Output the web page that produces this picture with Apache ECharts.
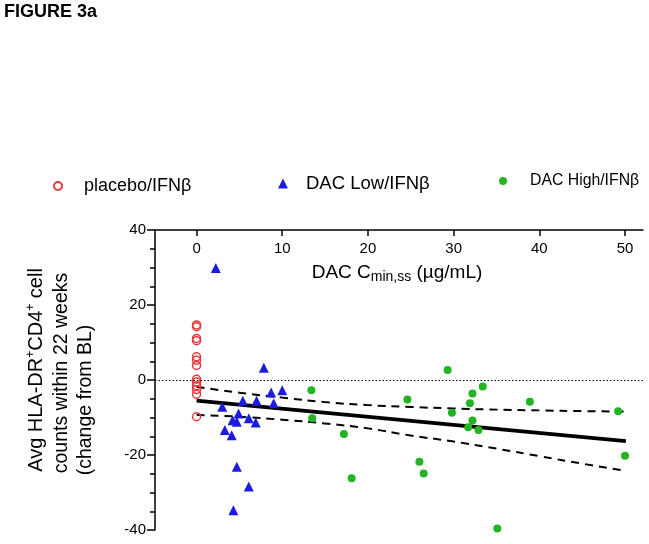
<!DOCTYPE html>
<html>
<head>
<meta charset="utf-8">
<script src="https://cdn.jsdelivr.net/npm/echarts@6/dist/echarts.min.js"></script>
<style>
  html, body { margin: 0; padding: 0; background: #fff; }
  #graph1 { width: 649px; height: 544px; }
</style>
</head>
<body>
<div id="graph1"></div>
<script>
// values: [DAC Cmin,ss, change from BL]
const placebo = [
    [0, 14.7], [0, 14.2], [0, 11.1], [0, 10.5], [0, 6.2], [0, 5.3], [0, 3.9],
    [0, 0.2], [0, -0.5], [0, -1.5], [0, -2.5], [0, -3.8], [0, -9.8],
];
const dacLow = [
    [2.25, 29.9], [7.85, 3.3], [3.0, -7.1], [3.3, -13.3], [4.1, -14.7], [4.2, -10.7],
    [4.7, -11.1], [4.9, -8.9], [4.7, -23.1], [5.4, -5.5], [6.1, -10.2], [6.1, -28.4],
    [4.3, -34.7], [7.0, -5.5], [6.9, -11.3], [8.7, -3.3], [9.0, -6.2], [10.0, -2.7],
];
const dacHigh = [
    [13.4, -2.7], [13.5, -10.2], [29.3, 2.7], [33.4, -1.7], [32.2, -3.6], [31.9, -6.2],
    [24.6, -5.2], [29.8, -8.7], [32.2, -10.8], [31.7, -12.6], [32.9, -13.3], [17.2, -14.4],
    [26.0, -21.8], [26.5, -24.9], [18.1, -26.2], [35.1, -39.6], [38.9, -5.8], [49.2, -8.3],
    [50.0, -20.2],
];
const fitLine = [[0, -5.5], [50.1, -16.3]];
const ciUpper = [
    [0, -1.8], [5, -3.4], [10, -4.7], [15, -5.9], [20, -6.7], [25, -7.2],
    [30, -7.6], [35, -7.9], [40, -8.1], [45, -8.3], [50, -8.4],
];
const ciLower = [
    [0, -9.3], [5, -9.8], [10, -10.6], [15, -11.6], [20, -12.9], [25, -14.8],
    [30, -16.4], [35, -18.3], [40, -20.3], [45, -22.3], [50, -24.2],
];
const xTicks = [0, 10, 20, 30, 40, 50];

const font = 'Liberation Sans, Arial, sans-serif';

const myChart1 = echarts.init(document.getElementById('graph1'));
const option1 = {
    animation: false,
    title: {
        text: 'FIGURE 3a',
        left: 4,
        top: 3,
        padding: 0,
        textStyle: { fontSize: 18, fontWeight: 'bold', color: '#000', fontFamily: font },
    },
    legend: [
        {
            data: ['placebo/IFNβ'],
            left: 53, top: 177, padding: 0,
            itemWidth: 8, itemHeight: 8,
            symbolKeepAspect: true,
            textStyle: { fontSize: 18, color: '#000', fontFamily: font, padding: [0, 0, 0, 17] },
        },
        {
            data: ['DAC Low/IFNβ'],
            left: 278, top: 174, padding: 0,
            itemWidth: 10, itemHeight: 10,
            symbolKeepAspect: true,
            textStyle: { fontSize: 18.5, color: '#000', fontFamily: font, padding: [0, 0, 0, 13] },
        },
        {
            data: ['DAC High/IFNβ'],
            left: 499, top: 173, padding: 0,
            itemWidth: 8, itemHeight: 8,
            symbolKeepAspect: true,
            textStyle: { fontSize: 15.8, color: '#000', fontFamily: font, padding: [0, 0, 0, 18] },
        },
    ],
    grid: {
        left: 155,
        top: 230,
        right: 6,
        bottom: 14,
        containLabel: false,
        outerBoundsMode: 'none',
    },
    xAxis: {
        type: 'value',
        position: 'top',
        min: -4.85,
        max: 52.1,
        axisLine: { onZero: false, lineStyle: { color: '#000', width: 1.5 } },
        axisTick: { inside: true, length: 6, customValues: xTicks, lineStyle: { color: '#000', width: 1.5 } },
        axisLabel: { inside: true, margin: 11, customValues: xTicks, color: '#000', fontSize: 15, fontFamily: font },
        splitLine: { show: false },
    },
    yAxis: {
        type: 'value',
        min: -40,
        max: 40,
        interval: 20,
        axisLine: { show: true, onZero: false, lineStyle: { color: '#000', width: 1.5 } },
        axisTick: { show: true, length: 8, lineStyle: { color: '#000', width: 1.5 } },
        minorTick: { show: true, splitNumber: 4, length: 5, lineStyle: { color: '#000', width: 1.5 } },
        axisLabel: { margin: 9, color: '#000', fontSize: 15, fontFamily: font },
        splitLine: { show: false },
    },
    graphic: [
        {
            type: 'text',
            x: 397, y: 273,
            style: {
                text: 'DAC C{sub|min,ss} (µg/mL)',
                align: 'center', verticalAlign: 'middle',
                fontSize: 19, fontFamily: font, fill: '#000',
                rich: { sub: { fontSize: 14, fontFamily: font, padding: [9, 0, 0, 0] } },
            },
        },
        {
            type: 'text',
            x: 36, y: 370, rotation: Math.PI / 2,
            style: {
                text: 'Avg HLA-DR{sup|+}CD4{sup|+} cell',
                align: 'center', verticalAlign: 'middle',
                fontSize: 20, fontFamily: font, fill: '#000',
                rich: { sup: { fontSize: 12, fontFamily: font, padding: [0, 0, 10, 0] } },
            },
        },
        {
            type: 'text',
            x: 62, y: 373, rotation: Math.PI / 2,
            style: {
                text: 'counts within 22 weeks',
                align: 'center', verticalAlign: 'middle',
                fontSize: 19.5, fontFamily: font, fill: '#000',
            },
        },
        {
            type: 'text',
            x: 86, y: 400, rotation: Math.PI / 2,
            style: {
                text: '(change from BL)',
                align: 'center', verticalAlign: 'middle',
                fontSize: 19.5, fontFamily: font, fill: '#000',
            },
        },
    ],
    series: [
        {
            name: 'fit',
            type: 'line',
            data: fitLine,
            symbol: 'none',
            lineStyle: { color: '#000', width: 4 },
            z: 3,
            markLine: {
                silent: true,
                symbol: 'none',
                label: { show: false },
                lineStyle: { color: '#000', width: 1, type: [1.5, 2] },
                data: [{ yAxis: 0 }],
            },
        },
        {
            name: 'ci upper',
            type: 'line',
            data: ciUpper,
            smooth: true,
            symbol: 'none',
            lineStyle: { color: '#000', width: 2, type: [8, 6] },
            z: 3,
        },
        {
            name: 'ci lower',
            type: 'line',
            data: ciLower,
            smooth: true,
            symbol: 'none',
            lineStyle: { color: '#000', width: 2, type: [8, 6] },
            z: 3,
        },
        {
            name: 'placebo/IFNβ',
            type: 'scatter',
            data: placebo,
            symbol: 'circle',
            symbolSize: 8,
            symbolKeepAspect: true,
            itemStyle: { color: 'rgba(255,255,255,0)', borderColor: '#e8383d', borderWidth: 1.5, opacity: 1 },
            z: 4,
        },
        {
            name: 'DAC Low/IFNβ',
            type: 'scatter',
            data: dacLow,
            symbol: 'triangle',
            symbolSize: 10,
            symbolKeepAspect: true,
            itemStyle: { color: '#1c1ce0', opacity: 1 },
            z: 4,
        },
        {
            name: 'DAC High/IFNβ',
            type: 'scatter',
            data: dacHigh,
            symbol: 'circle',
            symbolSize: 8,
            symbolKeepAspect: true,
            itemStyle: { color: '#22b422', opacity: 1 },
            z: 4,
        },
    ],
};
myChart1.setOption(option1);
window.addEventListener('resize', myChart1.resize);
</script>
</body>
</html>
